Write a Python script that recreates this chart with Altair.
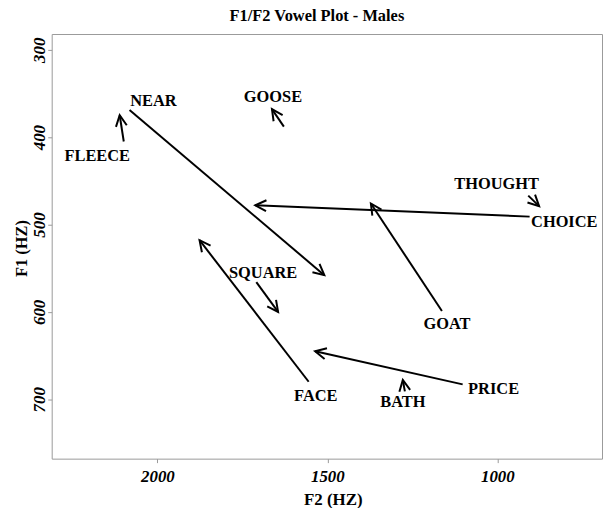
import math
import altair as alt
import pandas as pd

# ---- data ----
vowels   = ["FLEECE", "NEAR", "GOOSE", "THOUGHT", "CHOICE", "GOAT", "SQUARE", "FACE", "PRICE", "BATH"]
f2_start = [2099, 2082, 1628, 909, 905, 1163, 1709, 1555, 1102, 1272]
f1_start = [405, 369, 388, 467, 491, 599, 566, 680, 683, 691]
f2_end   = [2111, 1509, 1663, 877, 1712, 1372, 1645, 1876, 1536, 1278]
f1_end   = [375, 558, 368, 479, 478, 476, 600, 518, 645, 678]
label_f2 = [2177, 2012, 1660, 1002, 803, 1148, 1689, 1534, 1011, 1278]
label_f1 = [422, 359, 354, 454, 497, 614, 555, 696, 688, 703]

x_ticks = [2000, 1500, 1000]
y_ticks = [300, 400, 500, 600, 700]
X_DOMAIN = [692, 2311]
Y_DOMAIN = [282, 768]

W, H = 554, 427.5
FONT = "Liberation Serif"

# arrow-head orientation in screen space (derived from the data and scales)
sx = W / (X_DOMAIN[1] - X_DOMAIN[0])
sy = H / (Y_DOMAIN[1] - Y_DOMAIN[0])
angles = []
for a, b, c, d in zip(f2_start, f1_start, f2_end, f1_end):
    dx = -(c - a) * sx
    dy = (d - b) * sy
    angles.append(math.degrees(math.atan2(dx, -dy)) % 360)

df = pd.DataFrame({
    "vowel": vowels, "f2s": f2_start, "f1s": f1_start,
    "f2e": f2_end, "f1e": f1_end, "lf2": label_f2, "lf1": label_f1,
    "angle": angles,
})

xs = alt.Scale(domain=X_DOMAIN, reverse=True, nice=False, zero=False)
ys = alt.Scale(domain=Y_DOMAIN, reverse=True, nice=False, zero=False)

x_axis = alt.Axis(
    title="F2 (HZ)", values=x_ticks, format="d", grid=False, domain=False,
    tickColor="#999999", tickSize=4,
    labelFont=FONT, labelFontSize=17, labelFontStyle="italic", labelFontWeight="bold",
    labelColor="black", labelBaseline="alphabetic", labelPadding=19,
    titleFont=FONT, titleFontSize=17, titleFontWeight="bold", titleColor="black",
    titleBaseline="alphabetic", titleAlign="center", titleX=283, titleY=46,
)
y_axis = alt.Axis(
    title="F1 (HZ)", values=y_ticks, format="d", grid=False, domain=False,
    tickColor="#999999", tickSize=4,
    labelFont=FONT, labelFontSize=17, labelFontStyle="italic", labelFontWeight="bold",
    labelColor="black", labelAngle=270, labelAlign="center", labelBaseline="alphabetic",
    labelPadding=3,
    titleFont=FONT, titleFontSize=16.5, titleFontWeight="bold", titleColor="black",
    titleAngle=270, titleBaseline="alphabetic", titleAlign="center",
    titleX=-25.7, titleY=215.5,
)

base = alt.Chart(df)

lines = base.mark_rule(color="black", strokeWidth=2).encode(
    x=alt.X("f2s:Q", scale=xs, axis=x_axis),
    y=alt.Y("f1s:Q", scale=ys, axis=y_axis),
    x2="f2e:Q",
    y2="f1e:Q",
)

heads = base.mark_point(
    shape="M -0.5 1 L 0 0 L 0.5 1", size=484, filled=False,
    color="black", strokeWidth=2, opacity=1,
).encode(
    x=alt.X("f2e:Q", scale=xs),
    y=alt.Y("f1e:Q", scale=ys),
    angle=alt.Angle("angle:Q", scale=None),
)

labels = base.mark_text(
    font=FONT, fontWeight="bold", fontSize=16.5, color="black",
    align="center", baseline="middle",
).encode(
    x=alt.X("lf2:Q", scale=xs),
    y=alt.Y("lf1:Q", scale=ys),
    text="vowel:N",
)

chart = alt.layer(lines, heads, labels).properties(
    width=W, height=H,
    title=alt.TitleParams(
        "F1/F2 Vowel Plot - Males", font=FONT, fontSize=16.5, fontWeight="bold",
        color="black", anchor="middle", baseline="alphabetic", offset=16.5,
        dx=-10, dy=20,
    ),
    autosize=alt.AutoSizeParams(type="none"),
    padding={"left": 44, "top": 24.5, "right": 1, "bottom": 48},
).configure_view(stroke="#9a9a9a", strokeWidth=1)

chart.save("out.html", embed_options={"renderer": "svg", "actions": False})
